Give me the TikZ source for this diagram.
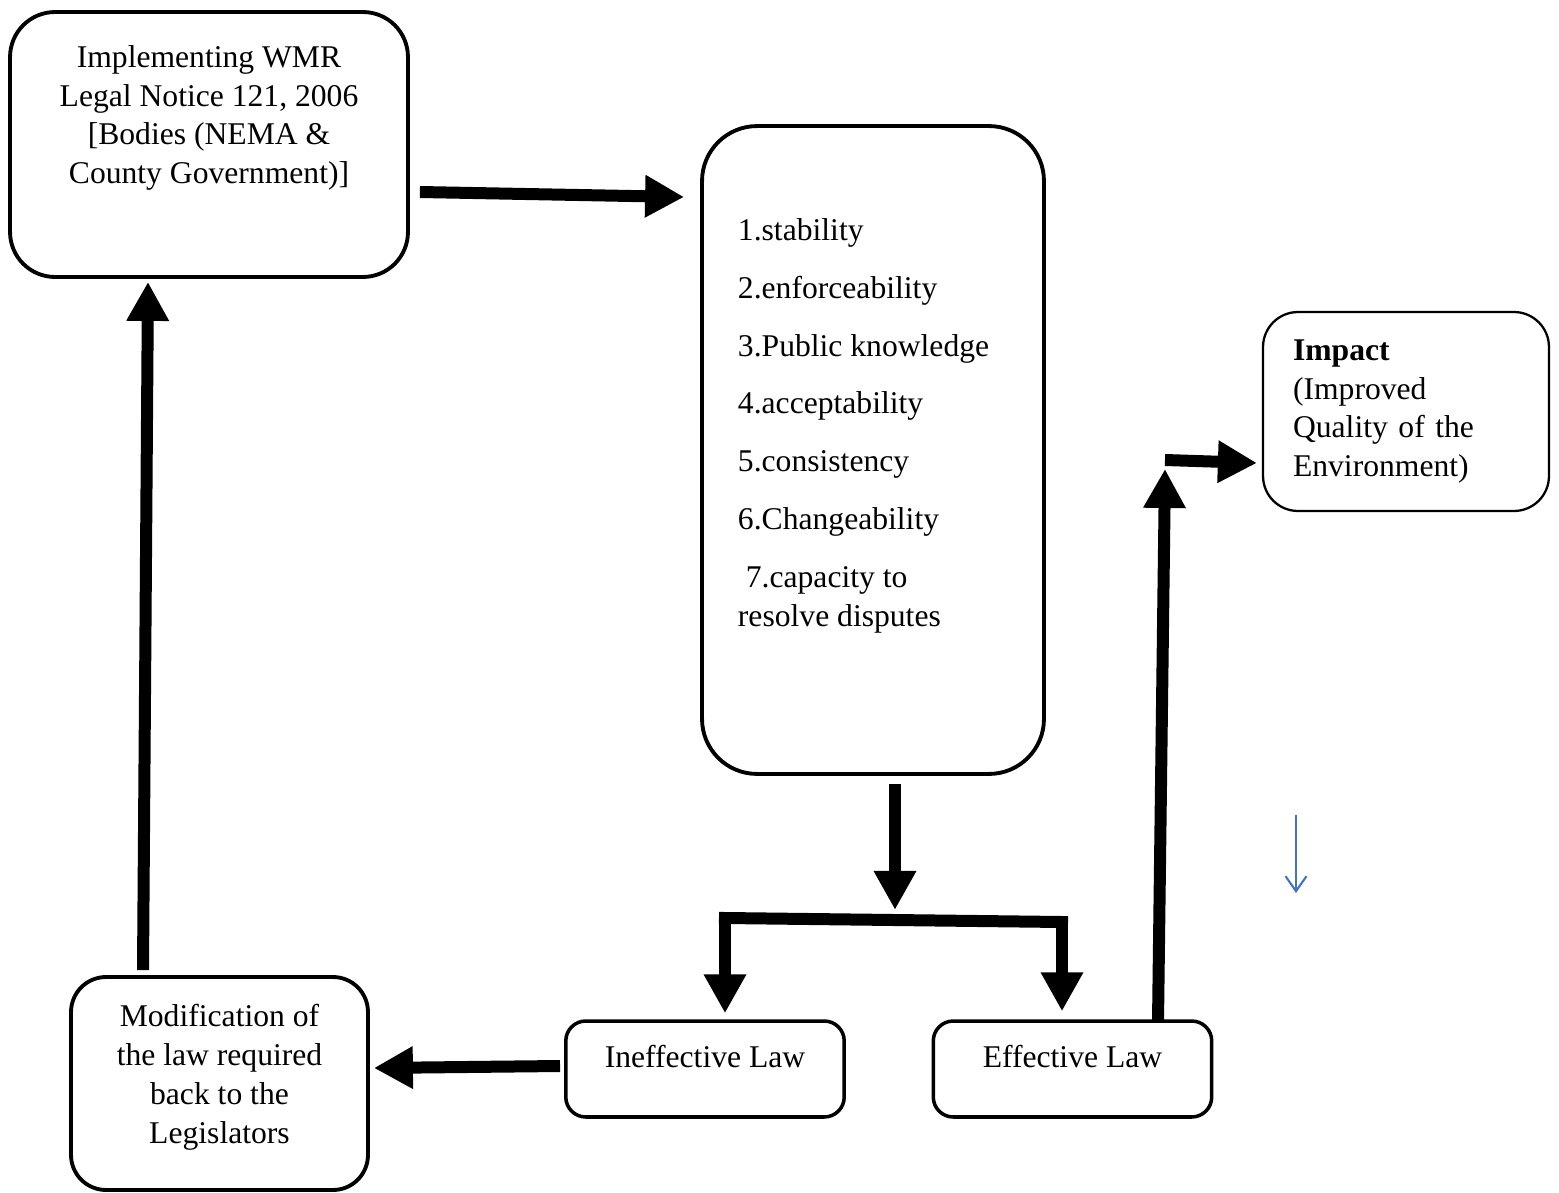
\documentclass[tikz,border=0pt]{standalone}
\usepackage{fontspec}
\setmainfont{Liberation Serif}
\usetikzlibrary{positioning,arrows.meta}

\begin{document}
\begin{tikzpicture}[x=0.02cm,y=-0.02cm,
		font=\fontsize{18}{22.1}\selectfont,
		main node/.style={rectangle,draw,line width=2.2pt,rounded corners=0.7cm,inner sep=0pt},
		small node/.style={rectangle,draw,line width=2pt,rounded corners=0.4cm,inner sep=0pt,
			minimum width=5.57cm,minimum height=1.92cm,text height=0.45cm,text depth=0.52cm},
		big arrow/.style={line width=0.24cm,-{Triangle[width=0.8cm,length=0.78cm]}},
		thin arrow/.style={draw={rgb,255:red,68;green,114;blue,196},line width=1.2pt,
			-{Straight Barb[width=0.42cm,length=0.3cm,line width=1.2pt]}}]
		\useasboundingbox (0,0) rectangle (1559,1193);

		% boxes
		\node[main node, rounded corners=0.9cm, minimum width=7.96cm, minimum height=5.3cm] (impl) at (209,144.5) {};
		\node[align=center] (impltext) at ([shift={(0,-26.5)}]impl.center)
			{Implementing WMR\\Legal Notice 121, 2006\\{}[Bodies (NEMA \&\\County Government)]};
		\node[main node, rounded corners=1.1cm, minimum width=6.84cm, minimum height=12.96cm] (crit) at (873,450) {};
		\node[align=left, inner sep=0pt, anchor=north west] (crittext) at ([shift={(37.5,94)}]crit.north west)
			{1.stability\\[10.8pt]2.enforceability\\[10.8pt]3.Public knowledge\\[10.8pt]4.acceptability\\[10.8pt]%
			5.consistency\\[10.8pt]6.Changeability\\[10.8pt]\hspace*{0.25em}7.capacity to\\resolve disputes};
		\node[main node, line width=1.3pt, minimum width=5.72cm, minimum height=3.98cm,
			text width=4.52cm, align=left, inner xsep=0.6cm] (impact) at (1406,411.5)
			{\textbf{Impact}\\(Improved\\Quality of the\\Environment)};
		\node[main node, minimum width=5.94cm, minimum height=4.26cm] (modif) at (219.5,1083.5) {};
		\node[align=center] (modiftext) at ([shift={(0,-6)}]modif.center)
			{Modification of\\the law required\\back to the\\Legislators};
		\node[small node] (ineff) at (705,1069) {Ineffective Law};
		\node[small node] (eff) at (1072.5,1069) {Effective Law};

		% connectors
		\draw[big arrow] ([shift={(10,47.5)}]impl.east) -- ([shift={(-16,-253)}]crit.west);
		\draw[big arrow] ([shift={(22,8)}]crit.south) -- ([shift={(22,134)}]crit.south);
		\coordinate (splitl) at (725,918);
		\coordinate (splitr) at (1062,922);
		\draw[line width=0.24cm, line cap=rect] (splitl) -- (splitr);
		\draw[big arrow] (splitl) -- ([shift={(20,-6)}]ineff.north);
		\draw[big arrow] (splitr) -- ([shift={(-10.5,-8)}]eff.north);
		\draw[big arrow] ([shift={(-4,-3)}]ineff.west) -- ([shift={(4,-15.5)}]modif.east);
		\coordinate (elbow) at (1165,460);
		\draw[big arrow] ([shift={(85.5,3)}]eff.north) -- ([yshift=-0.18cm]elbow);
		\draw[big arrow] (elbow) -- ([shift={(-5,51.5)}]impact.west);
		\draw[big arrow] ([shift={(-76.5,-5)}]modif.north) -- ([shift={(-61,3)}]impl.south);

		\coordinate (downtop) at (1296,815);
		\coordinate (downend) at (1296,893);
		\draw[thin arrow] (downtop) -- (downend);
\end{tikzpicture}
\end{document}
